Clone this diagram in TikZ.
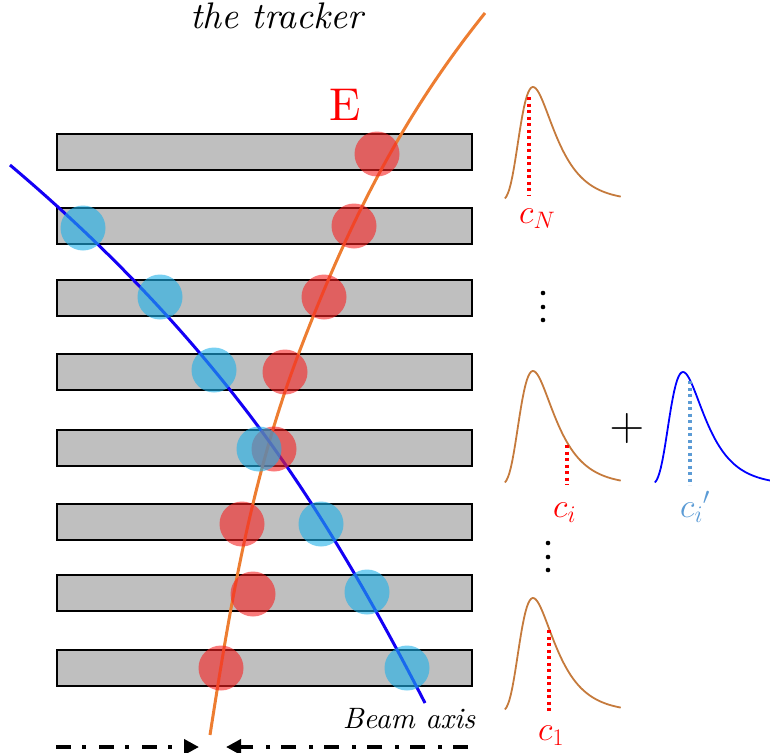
\RequirePackage{fix-cm}
\documentclass[tikz,border=0pt]{standalone}
\usepackage{fontspec}
\setmainfont{lmroman10-regular}[Extension=.otf,ItalicFont=lmroman10-italic]
\usepackage{tikz}
\usepackage{xcolor}
\usetikzlibrary{arrows.meta}

\definecolor{trackorange}{RGB}{237,125,49}
\definecolor{trackblue}{RGB}{20,0,245}
\definecolor{barfill}{RGB}{191,191,191}
\definecolor{hitred}{RGB}{246,33,33}
\definecolor{hitblue}{RGB}{29,176,233}
\definecolor{pdfbrown}{RGB}{197,122,60}
\definecolor{primeblue}{RGB}{91,155,213}

\begin{document}
\begin{tikzpicture}[x=1pt,y=-1pt,
  bar/.style={draw=black,line width=2.8pt,fill=barfill},
  redhit/.style={fill=hitred,fill opacity=0.6},
  bluehit/.style={fill=hitblue,fill opacity=0.6},
  track/.style={line width=3pt},
  pdfline/.style={line width=1.8pt},
  cutline/.style={line width=3.3pt,dash pattern=on 3.3pt off 3.2pt},
  clabel/.style={anchor=base west,inner sep=0pt,font=\fontsize{34}{38}\selectfont},
  beamarrow/.style={line width=4pt,dash pattern=on 15pt off 11pt on 4pt off 13pt,
    -{Triangle[length=15pt,width=15pt]}}]
  \useasboundingbox (0,0) rectangle (770,752);
  % layers
  \foreach \y in {152,226,298,372,448,522,593,668}
    \draw[bar] (57,\y-18) rectangle (472,\y+18);
  % tracks
  \draw[track,draw=trackorange] (485,13) .. controls (395,125) and (343,238) .. (300,350)
    .. controls (251,478) and (230,607) .. (210,735);
  \draw[track,draw=trackblue] (10,165) .. controls (94,236) and (170,313) .. (238,400)
    .. controls (311,493) and (371,598) .. (425,703);
  % hits
  \foreach \x/\y in {377/154,354/226,324/297,285/372,274/449,242/524,253/594,221/668}
    \fill[redhit] (\x,\y) circle[radius=22.5pt];
  \foreach \x/\y in {83/228,160/297,214/370,259/449,321/524,367/592,407/668}
    \fill[bluehit] (\x,\y) circle[radius=22.5pt];
  % labels
  \node[anchor=base,inner sep=0pt,font=\fontsize{37}{40}\selectfont\itshape] (title) at (277,29) {the tracker};
  \node[anchor=base,inner sep=0pt,text=red,font=\fontsize{46}{50}\selectfont] (energy) at (345,120) {E};
  \node[anchor=base,inner sep=0pt,font=\fontsize{29.5}{33}\selectfont\itshape] (beam) at (409,728) {Beam axis};
  % beam arrows
  \coordinate (bl) at (56,747);
  \coordinate (blend) at (199,747);
  \coordinate (br) at (468,747);
  \coordinate (brend) at (226,747);
  \draw[beamarrow] (bl) -- (blend);
  \draw[beamarrow] (br) -- (brend);
  % charge distributions
  \foreach \b in {201,485,712}
    \draw[pdfline,draw=pdfbrown] plot[domain=-2.4:7.5,samples=80]
      ({533+11.7*\x},{\b-114*exp(-(\x+exp(-\x)-1)/2)});
  \draw[pdfline,draw=blue] plot[domain=-2.4:7.6,samples=80]
    ({683+11.7*\x},{485-113*exp(-(\x+exp(-\x)-1)/2)});
  \draw[cutline,draw=red] (529,97) -- (529,195);
  \draw[cutline,draw=red] (567,445) -- (567,485);
  \draw[cutline,draw=red] (549,630) -- (549,712);
  \draw[cutline,draw=primeblue] (690,381) -- (690,485);
  \node[clabel,text=red] (cN) at (519,223) {$c_N$};
  \node[clabel,text=red] (ci) at (553,517) {$c_i$};
  \node[clabel,text=primeblue] (cip) at (680,517) {${c_i}'$};
  \node[clabel,text=red] (c1) at (538,740) {$c_1$};
  \node[inner sep=0pt,font=\fontsize{48}{52}\selectfont] (plus) at (627,428) {$+$};
  % dots
  \foreach \y in {293,307,320} \fill (543,\y) circle[radius=2.3pt];
  \foreach \y in {543,557,570} \fill (548,\y) circle[radius=2.3pt];
\end{tikzpicture}
\end{document}
